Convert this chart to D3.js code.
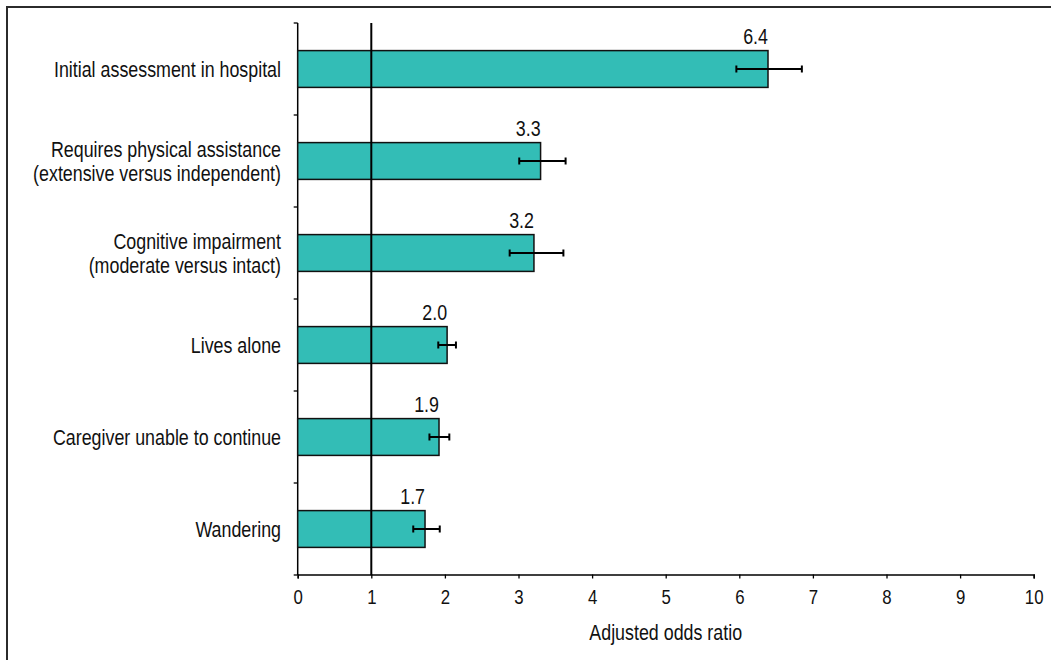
<!DOCTYPE html>
<html>
<head>
<meta charset="utf-8">
<script src="https://cdn.jsdelivr.net/npm/d3@7"></script>
<style>
  html, body { margin: 0; padding: 0; background: #fff; overflow: hidden; }
  svg { display: block; }
  text { font-family: "Liberation Sans", Arial, sans-serif; fill: #111; }
</style>
</head>
<body>
<svg id="chart" width="1051" height="660"></svg>
<script>
// ---- data ----
const categories = [
  ["Initial assessment in hospital"],
  ["Requires physical assistance", "(extensive versus independent)"],
  ["Cognitive impairment", "(moderate versus intact)"],
  ["Lives alone"],
  ["Caregiver unable to continue"],
  ["Wandering"]
];
const oddsRatio = [6.39, 3.30, 3.21, 2.03, 1.92, 1.73];
const ciLower   = [5.96, 3.01, 2.88, 1.91, 1.79, 1.57];
const ciUpper   = [6.85, 3.64, 3.61, 2.15, 2.06, 1.93];
const xTicks    = [0, 1, 2, 3, 4, 5, 6, 7, 8, 9, 10];
const xTitle    = "Adjusted odds ratio";
const refValue  = 1;

// ---- layout ----
const svg = d3.select("#chart");
const plotL = 297.7, plotR = 1033.7, plotT = 23, plotB = 575;
const SX = 0.83;      // horizontal condensing to mimic a narrow face
const FS = 21.5;

const keys = categories.map((c, i) => i);
const x = d3.scaleLinear().domain([0, 10]).range([plotL, plotR]);
const y = d3.scaleBand().domain(keys).range([plotT, plotB]).paddingInner(0.6).paddingOuter(0.3);
const step = (plotB - plotT) / keys.length;

// outer frame (top and left edges visible)
const frame = svg.append("g").attr("stroke", "#2b2b2b").attr("stroke-width", 2);
frame.append("line").attr("x1", 6).attr("x2", 1051).attr("y1", 7).attr("y2", 7);
frame.append("line").attr("x1", 7).attr("x2", 7).attr("y1", 6).attr("y2", 660);

// condensed text helper
function ctext(parent, px, py, anchor, size, str) {
  return parent.append("text")
    .attr("transform", `translate(${px},${py}) scale(${SX},1)`)
    .attr("text-anchor", anchor)
    .attr("font-size", size)
    .text(str);
}

// x axis
const xAxis = d3.axisBottom(x).tickValues(xTicks).tickSize(4).tickPadding(11).tickFormat(d3.format("d"));
const gx = svg.append("g").attr("transform", `translate(0,${plotB - 0.5})`).call(xAxis);
gx.select(".domain").attr("stroke", "#000").attr("stroke-width", 1.5);
gx.selectAll(".tick line").attr("stroke", "#000").attr("stroke-width", 1.3);
gx.selectAll(".tick text").attr("font-size", 21).attr("fill", "#111")
  .attr("font-family", '"Liberation Sans", Arial, sans-serif')
  .attr("transform", "scale(0.8,1)");

// y axis (ticks at band boundaries)
const gy = svg.append("g");
gy.append("line")
  .attr("x1", plotL).attr("x2", plotL).attr("y1", plotT).attr("y2", plotB)
  .attr("stroke", "#000").attr("stroke-width", 1.5);
gy.selectAll("line.tk").data(d3.range(keys.length + 1)).join("line")
  .attr("class", "tk")
  .attr("x1", plotL - 4).attr("x2", plotL)
  .attr("y1", i => plotT + i * step).attr("y2", i => plotT + i * step)
  .attr("stroke", "#000").attr("stroke-width", 1.3);

// bars
svg.append("g").selectAll("rect").data(keys).join("rect")
  .attr("x", x(0))
  .attr("y", i => y(i))
  .attr("width", i => x(oddsRatio[i]) - x(0))
  .attr("height", y.bandwidth())
  .attr("fill", "#33bdb6")
  .attr("stroke", "#111").attr("stroke-width", 1.5);

// reference line at OR = 1
svg.append("line")
  .attr("x1", x(refValue)).attr("x2", x(refValue))
  .attr("y1", plotT).attr("y2", plotB)
  .attr("stroke", "#000").attr("stroke-width", 2);

// error bars
const eb = svg.append("g").attr("stroke", "#000").attr("stroke-width", 2);
keys.forEach(i => {
  const cy = y(i) + y.bandwidth() / 2;
  eb.append("line").attr("x1", x(ciLower[i])).attr("x2", x(ciUpper[i])).attr("y1", cy).attr("y2", cy);
  [ciLower[i], ciUpper[i]].forEach(v => {
    eb.append("line").attr("x1", x(v)).attr("x2", x(v)).attr("y1", cy - 3.5).attr("y2", cy + 3.5);
  });
});

// value labels
const vl = svg.append("g");
keys.forEach(i => {
  ctext(vl, x(oddsRatio[i]), y(i) - 6.5, "end", FS, oddsRatio[i].toFixed(1));
});

// category labels
const lab = svg.append("g");
keys.forEach(i => {
  const lines = categories[i];
  const cy = y(i) + y.bandwidth() / 2;
  const lh = 24;
  lines.forEach((ln, j) => {
    ctext(lab, 281, cy + (j - (lines.length - 1) / 2) * lh + 7.5, "end", FS, ln);
  });
});

// axis title
ctext(svg, (plotL + plotR) / 2, 639.5, "middle", FS, xTitle);
</script>
</body>
</html>
